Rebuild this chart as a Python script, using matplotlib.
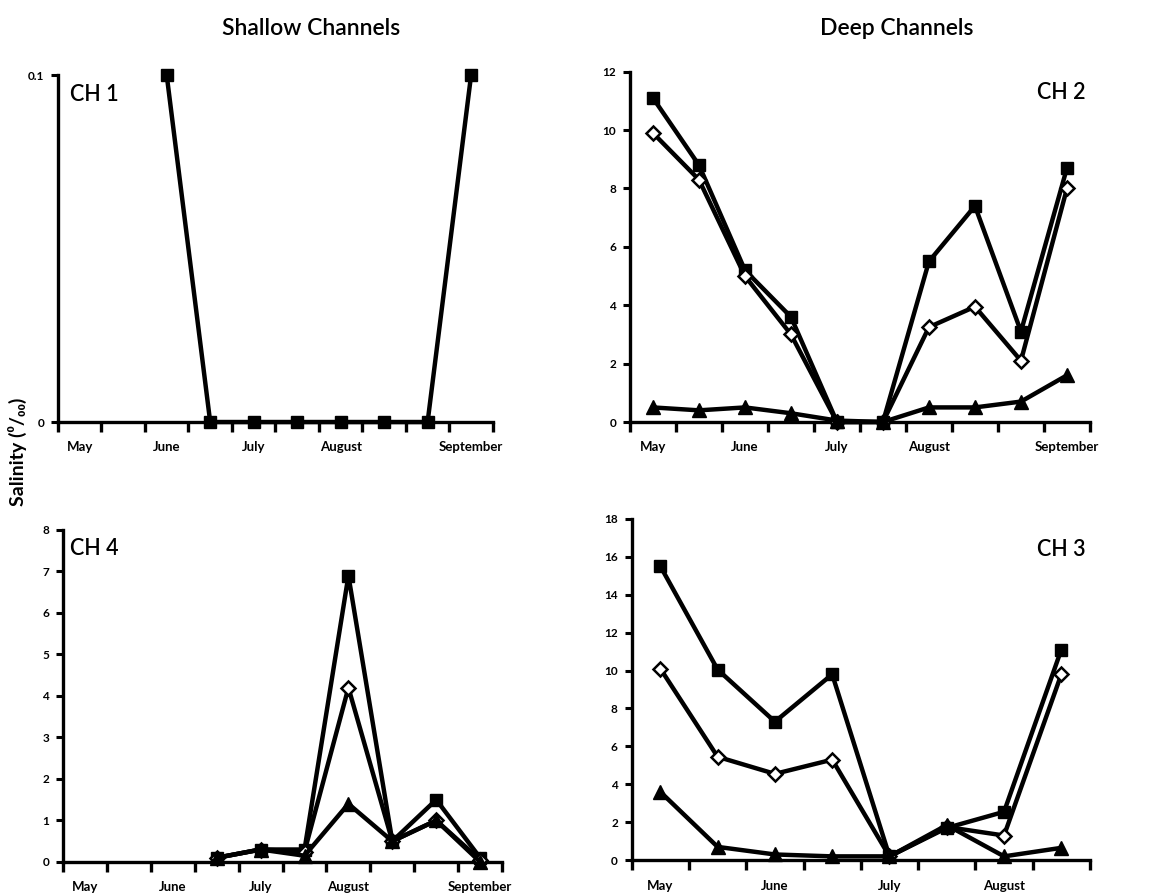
import numpy as np
from matplotlib import pyplot as plt

plt.rcParams['font.family'] = ['Lato', 'DejaVu Sans']
plt.rcParams['font.weight'] = 'bold'

nan = np.nan

# sampling dates: only the first date of each month carries a label
labels_10 = ['May', '', 'June', '', 'July', '', 'August', '', '', 'September']
labels_8 = ['May', '', 'June', '', 'July', '', 'August', '']

# CH 1 (shallow)
ch1_sq = [nan, nan, 0.1, 0, 0, 0, 0, 0, 0, 0.1]

# CH 2 (deep)
ch2_sq = [11.1, 8.8, 5.2, 3.6, 0, 0, 5.5, 7.4, 3.1, 8.7]
ch2_di = [9.9, 8.3, 5.0, 3.0, 0, 0, 3.25, 3.95, 2.1, 8.0]
ch2_tr = [0.5, 0.4, 0.5, 0.3, 0.05, 0, 0.5, 0.5, 0.7, 1.6]

# CH 4 (shallow)
ch4_sq = [nan, nan, nan, 0.1, 0.3, 0.3, 6.9, 0.5, 1.5, 0.1]
ch4_di = [nan, nan, nan, 0.1, 0.3, 0.25, 4.2, 0.5, 1.0, 0.05]
ch4_tr = [nan, nan, nan, 0.1, 0.3, 0.15, 1.4, 0.5, 1.0, 0.0]

# CH 3 (deep)
ch3_sq = [15.5, 10.05, 7.3, 9.8, 0.2, 1.7, 2.55, 11.1]
ch3_di = [10.1, 5.45, 4.55, 5.3, 0.2, 1.75, 1.3, 9.8]
ch3_tr = [3.6, 0.7, 0.3, 0.2, 0.2, 1.85, 0.2, 0.65]


def style_axis(ax, labels, ylim, yticks, ytick_labels=None):
    n = len(labels)
    ax.set_xlim(-0.5, n - 0.5)
    ax.set_ylim(*ylim)
    for s in ['top', 'right']:
        ax.spines[s].set_visible(False)
    for s in ['left', 'bottom']:
        ax.spines[s].set_linewidth(2.4)
    # tick marks between categories, labels at the category centres
    ax.set_xticks(np.arange(n + 1) - 0.5)
    ax.set_xticklabels([''] * (n + 1))
    ax.tick_params(axis='x', which='major', length=7, width=2.4,
                   direction='out', color='black')
    ax.set_xticks(np.arange(n), minor=True)
    ax.set_xticklabels(labels, minor=True, fontsize=9.5, fontweight='bold')
    ax.tick_params(axis='x', which='minor', length=0, pad=14)
    ax.set_yticks(yticks)
    if ytick_labels is not None:
        ax.set_yticklabels(ytick_labels)
    ax.tick_params(axis='y', length=5, width=2.2, labelsize=8.5, pad=5,
                   color='black')
    for lab in ax.get_yticklabels():
        lab.set_fontweight('bold')


def plot_series(ax, y, kind):
    x = np.arange(len(y))
    if kind == 'sq':
        ax.plot(x, y, color='black', lw=3.2, marker='s', ms=8.5, mfc='black',
                mec='black', clip_on=False, zorder=3)
    elif kind == 'di':
        ax.plot(x, y, color='black', lw=3.2, marker='D', ms=7, mfc='white',
                mec='black', mew=1.8, clip_on=False, zorder=4)
    else:
        ax.plot(x, y, color='black', lw=3.2, marker='^', ms=9.5, mfc='black',
                mec='black', clip_on=False, zorder=5)


fig = plt.figure(figsize=(11.72, 8.96), dpi=100)

ax1 = fig.add_axes([0.0495, 0.529, 0.371, 0.387])
ax2 = fig.add_axes([0.5375, 0.529, 0.3925, 0.391])
ax4 = fig.add_axes([0.0538, 0.038, 0.3746, 0.3705])
ax3 = fig.add_axes([0.539, 0.040, 0.391, 0.381])

plot_series(ax1, ch1_sq, 'sq')
style_axis(ax1, labels_10, (0, 0.1), [0, 0.1], ['0', '0.1'])
ax1.text(0.028, 0.975, 'CH 1', transform=ax1.transAxes, fontsize=15.5,
         fontweight='semibold', va='top', ha='left')

plot_series(ax2, ch2_sq, 'sq')
plot_series(ax2, ch2_di, 'di')
plot_series(ax2, ch2_tr, 'tr')
style_axis(ax2, labels_10, (0, 12), np.arange(0, 13, 2))
ax2.text(0.99, 0.97, 'CH 2', transform=ax2.transAxes, fontsize=15.5,
         fontweight='semibold', va='top', ha='right')

plot_series(ax4, ch4_sq, 'sq')
plot_series(ax4, ch4_di, 'di')
plot_series(ax4, ch4_tr, 'tr')
style_axis(ax4, labels_10, (0, 8), np.arange(0, 9, 1))
ax4.text(0.016, 0.975, 'CH 4', transform=ax4.transAxes, fontsize=15.5,
         fontweight='semibold', va='top', ha='left')

plot_series(ax3, ch3_sq, 'sq')
plot_series(ax3, ch3_di, 'di')
plot_series(ax3, ch3_tr, 'tr')
style_axis(ax3, labels_8, (0, 18), np.arange(0, 19, 2))
ax3.text(0.99, 0.94, 'CH 3', transform=ax3.transAxes, fontsize=15.5,
         fontweight='semibold', va='top', ha='right')

fig.text(0.265, 0.968, 'Shallow Channels', fontsize=16.5, ha='center',
         va='center', fontweight='semibold')
fig.text(0.765, 0.968, 'Deep Channels', fontsize=16.5, ha='center',
         va='center', fontweight='semibold')
fig.text(0.0145, 0.4955, 'Salinity (\u2070/\u2080\u2080)', rotation=90,
         fontsize=14, fontweight='bold', ha='center', va='center')

plt.savefig('out.png', dpi=100)
